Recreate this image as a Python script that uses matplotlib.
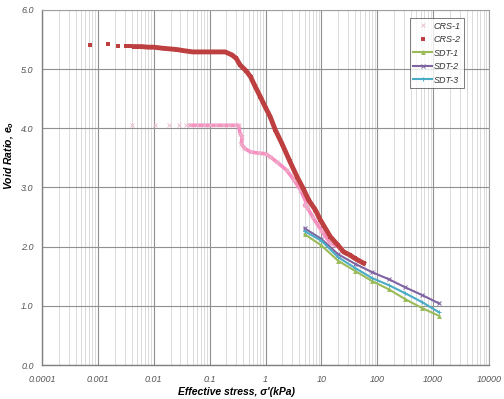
import matplotlib
matplotlib.use("Agg")
import matplotlib.pyplot as plt
from matplotlib.ticker import LogLocator, FixedLocator, NullFormatter

plt.rcParams['font.family'] = ['Liberation Sans', 'DejaVu Sans']
plt.rcParams['mathtext.fontset'] = 'custom'
plt.rcParams['mathtext.it'] = 'Liberation Sans:bold:italic'

# CRS-1 (pink)
crs1_x = [0.0041, 0.0107, 0.019, 0.028, 0.038, 0.045, 0.06, 0.08, 0.1, 0.13, 0.17,
          0.22, 0.28, 0.33, 0.35, 0.38, 0.37, 0.42, 0.54, 0.75, 1.0, 1.2, 1.6,
          2.4, 3.2, 4.2, 5.5, 5.0, 5.6, 7.0, 10.0, 14.4, 23.0]
crs1_e = [4.05, 4.05, 4.05, 4.05, 4.05, 4.05, 4.05, 4.05, 4.05, 4.05, 4.05,
          4.05, 4.05, 4.05, 3.91, 3.86, 3.74, 3.66, 3.60, 3.58, 3.57, 3.52, 3.43,
          3.29, 3.13, 2.96, 2.72, 2.70, 2.66, 2.50, 2.27, 2.06, 1.97]

# CRS-2 (red)
crs2_x = [0.00072, 0.0015, 0.0023, 0.0032, 0.0038, 0.0045, 0.006, 0.008, 0.01,
          0.015, 0.02, 0.026, 0.035, 0.05, 0.07, 0.1, 0.15, 0.19, 0.25, 0.3,
          0.35, 0.45, 0.54, 0.65, 0.81, 1.0, 1.22, 1.5, 1.97, 2.7, 3.67, 4.8,
          5.9, 7.8, 9.6, 14.4, 20.0, 25.0, 32.0, 40.0, 57.0]
crs2_e = [5.41, 5.42, 5.39, 5.39, 5.39, 5.38, 5.38, 5.37, 5.37,
          5.35, 5.34, 5.33, 5.31, 5.29, 5.29, 5.29, 5.29, 5.29, 5.24, 5.18,
          5.07, 4.97, 4.87, 4.71, 4.53, 4.35, 4.19, 3.97, 3.74, 3.45, 3.18, 2.97,
          2.79, 2.62, 2.45, 2.17, 2.02, 1.91, 1.86, 1.80, 1.72]

sdt_x = [5, 10, 20, 40, 80, 160, 320, 640, 1280]
sdt1_e = [2.21, 2.02, 1.76, 1.59, 1.42, 1.28, 1.11, 0.96, 0.83]
sdt2_e = [2.31, 2.13, 1.87, 1.71, 1.57, 1.45, 1.31, 1.18, 1.04]
sdt3_e = [2.26, 2.10, 1.82, 1.64, 1.47, 1.35, 1.21, 1.06, 0.89]

fig = plt.figure(figsize=(5.04, 3.99), dpi=100)
ax = fig.add_axes([0.0833, 0.0852, 0.887, 0.890])

pink = '#F78FC0'
red = '#BE3F3F'

# CRS-1: sparse markers, then continuous part
ax.plot(crs1_x[5:], crs1_e[5:], color=pink, lw=2.6, zorder=2)
ax.plot(crs1_x, crs1_e, ls='none', marker='x', ms=2.5, mew=0.6, color='#E8B8CC',
        label='CRS-1', zorder=2)

# CRS-2
ax.plot(crs2_x[5:], crs2_e[5:], color=red, lw=3.5, zorder=3)
ax.plot(crs2_x, crs2_e, ls='none', marker='s', ms=3, mew=0, color=red,
        label='CRS-2', zorder=3)

ax.plot(sdt_x, sdt1_e, color='#9BBB59', lw=1.5, marker='^', ms=3.5, mew=0,
        label='SDT-1', zorder=4)
ax.plot(sdt_x, sdt2_e, color='#8064A2', lw=1.5, marker='x', ms=3.5, mew=0.7,
        label='SDT-2', zorder=4)
ax.plot(sdt_x, sdt3_e, color='#4BACC6', lw=1.5, marker='+', ms=3.5, mew=0.7,
        label='SDT-3', zorder=4)

ax.set_xscale('log')
ax.set_xlim(0.0001, 10000)
ax.set_ylim(0, 6)

ax.xaxis.set_major_locator(LogLocator(base=10, numticks=20))
ax.xaxis.set_minor_locator(LogLocator(base=10, subs=range(2, 10), numticks=100))
ax.xaxis.set_minor_formatter(NullFormatter())
ax.set_xticks([0.0001, 0.001, 0.01, 0.1, 1, 10, 100, 1000, 10000])
ax.set_xticklabels(['0.0001', '0.001', '0.01', '0.1', '1', '10', '100', '1000', '10000'])
ax.yaxis.set_major_locator(FixedLocator([0, 1, 2, 3, 4, 5, 6]))
ax.set_yticklabels(['%.1f' % v for v in range(7)])

ax.grid(True, which='major', color='#909090', lw=0.8)
ax.grid(True, which='minor', axis='x', color='#DADADA', lw=0.7)
ax.set_axisbelow(True)

for lab in ax.get_xticklabels() + ax.get_yticklabels():
    lab.set_fontstyle('italic')
ax.tick_params(which='both', length=0, labelsize=6.5, colors='#555555')
ax.tick_params(axis='x', pad=7)
ax.tick_params(axis='y', pad=6)

for side in ['left', 'bottom']:
    ax.spines[side].set_color('#808080')
    ax.spines[side].set_linewidth(1.0)
for side in ['top', 'right']:
    ax.spines[side].set_color('#A0A0A0')
    ax.spines[side].set_linewidth(0.8)

ax.set_xlabel("Effective stress, σ'(kPa)", fontsize=7.5, fontweight='bold',
              fontstyle='italic')
ax.set_ylabel(r"Void Ratio, e$_\mathit{o}$", fontsize=7.5, fontweight='bold',
              fontstyle='italic')
ax.xaxis.set_label_coords(0.434, -0.063)
ax.yaxis.set_label_coords(-0.058, 0.59)

leg = ax.legend(loc='upper right', bbox_to_anchor=(0.95, 0.985), fontsize=6.5,
                frameon=True, fancybox=False, handlelength=2.0, borderpad=0.4,
                labelspacing=0.5, handletextpad=0.2, borderaxespad=0.3,
                markerfirst=True)
leg.get_frame().set_edgecolor('#404040')
leg.get_frame().set_linewidth(0.6)
for t in leg.get_texts():
    t.set_fontstyle('italic')
    t.set_color('#333333')

fig.savefig('out.png', dpi=100)
